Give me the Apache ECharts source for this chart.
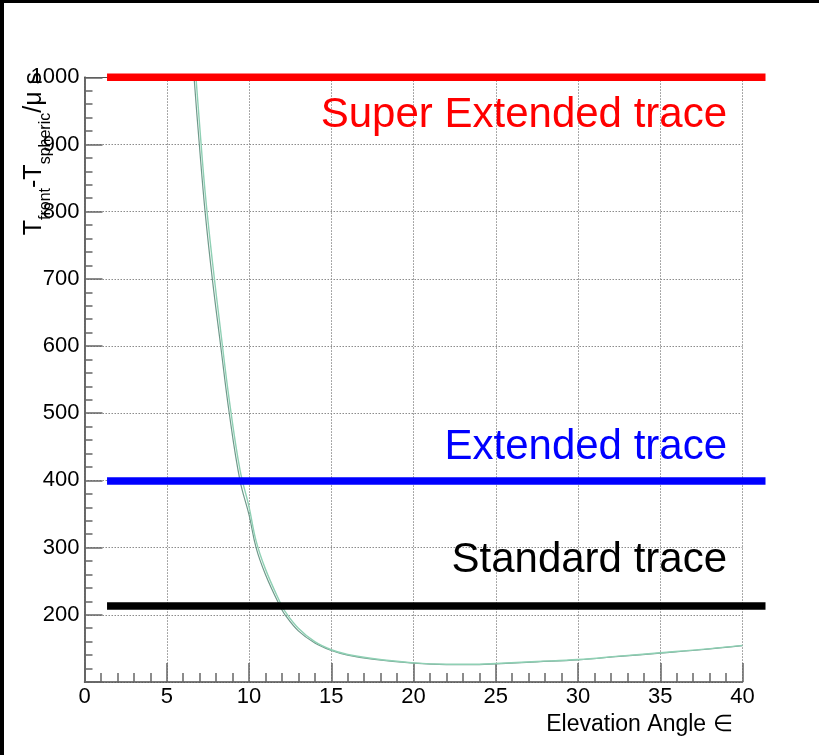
<!DOCTYPE html>
<html><head><meta charset="utf-8">
<script src="https://cdn.jsdelivr.net/npm/echarts@6/dist/echarts.min.js"></script>
<style>html,body{margin:0;padding:0;background:#fff}#c{width:819px;height:755px}</style>
</head><body><div id="c"></div>
<script>
const anglesA = [6.5, 6.66, 6.98, 7.33, 7.77, 8.28, 8.8, 9.45, 10, 10.43, 11, 11.88, 12.19, 13, 14, 15, 16, 17.5, 20, 22, 24, 25, 27.5, 30, 32.5, 35, 37.5, 40];
const valuesA = [1060, 1000, 900, 800, 700, 600, 500, 400, 349, 300, 260, 213, 200, 176, 158, 147, 140, 134, 128, 126, 126, 127, 130, 133, 138, 143, 148, 154];
const valuesB = [1105, 1040, 935, 830, 727, 622, 520, 416, 361, 310, 268, 219, 205, 180, 160, 148, 141, 135, 128.5, 126.5, 126.5, 127.5, 130.5, 133.5, 138.5, 143.5, 148.5, 154.5];
const traceNames = ['Super Extended trace', 'Extended trace', 'Standard trace'];
const traceLevels = [1000, 399, 213];
const traceStart = 1.37, traceEnd = 41.4;
const xTicks = [0, 5, 10, 15, 20, 25, 30, 35, 40];
const yTicks = [100, 200, 300, 400, 500, 600, 700, 800, 900, 1000];

const chart = echarts.init(document.getElementById('c'));
const traceColors = ['#ff0000', '#0000ff', '#000000'];
const labelPos = [[39.06, 943], [39.06, 449], [39.06, 281]];
const FONT = 'Liberation Sans, Arial, sans-serif';

const series = [
  {type:'line', data: anglesA.map((a,i)=>[a, valuesA[i]]), symbol:'none', smooth:0.4,
   lineStyle:{color:'#6f9a8b', width:1.2}, z:3},
  {type:'line', data: anglesA.map((a,i)=>[a, valuesB[i]]), symbol:'none', smooth:0.4,
   lineStyle:{color:'#8fd0b4', width:1.4}, z:3}
];
traceLevels.forEach((lv,i)=>{
  series.push({type:'line', xAxisIndex:2, yAxisIndex:2, data:[[traceStart, lv],[traceEnd, lv]], symbol:'none', clip:false,
    lineStyle:{color:traceColors[i], width:7.5}, z:5});
  series.push({type:'scatter', xAxisIndex:2, yAxisIndex:2, data:[labelPos[i]], symbolSize:0, z:6,
    itemStyle:{opacity:1},
    label:{show:true, position:'inside', formatter: traceNames[i], color:traceColors[i], opacity:1,
      fontSize:42, fontFamily:FONT, align:'right', verticalAlign:'middle'}});
});

chart.setOption({
  animation:false,
  grid:[{left:84.5, right:76.5, top:77.3, bottom:73},
        {left:84.5, right:53.5, top:77.3, bottom:73}],
  xAxis:[{type:'value', gridIndex:0, min:0, max:40, interval:5,
    axisLine:{lineStyle:{color:'#4d4d4d', width:1.5}},
    axisTick:{inside:true, length:19, lineStyle:{color:'#666', width:1.5}},
    minorTick:{show:true, splitNumber:5, length:9, lineStyle:{color:'#666', width:1.5}},
    axisLabel:{color:'#000', fontSize:22, fontFamily:FONT, margin:4,
      formatter:v=> xTicks.includes(v) ? String(v) : ''},
    splitLine:{show:true, lineStyle:{color:'#8c8c8c', type:[1.5,1.5], width:1}},
    name:'Elevation Angle \u2208', nameLocation:'end', nameGap:0,
    nameTextStyle:{color:'#000', fontSize:23, fontFamily:FONT, align:'right', verticalAlign:'top', padding:[31,10,0,0]}
  },{type:'value', gridIndex:0, min:0, max:40, position:'top', axisLine:{show:true, lineStyle:{color:'#4d4d4d'}},
    axisTick:{show:false}, axisLabel:{show:false}, splitLine:{show:false}},
  {type:'value', gridIndex:1, min:0, max:41.4, show:false}],
  yAxis:[{type:'value', gridIndex:0, min:100, max:1000, interval:100,
    axisLine:{lineStyle:{color:'#4d4d4d', width:1.5}},
    axisTick:{inside:true, length:18, lineStyle:{color:'#666', width:1.5}},
    minorTick:{show:true, splitNumber:5, length:8, lineStyle:{color:'#666', width:1.5}},
    axisLabel:{color:'#000', fontSize:22, fontFamily:FONT, margin:5,
      formatter:v=> (yTicks.includes(v) && v !== 100) ? String(v) : ''},
    splitLine:{show:true, lineStyle:{color:'#8c8c8c', type:[1.5,1.5], width:1}}
  },{type:'value', gridIndex:0, min:100, max:1000, position:'right', axisLine:{show:true, lineStyle:{color:'#666', width:1.5}},
    axisTick:{show:false}, axisLabel:{show:false}, splitLine:{show:false}},
  {type:'value', gridIndex:1, min:100, max:1000, show:false}],
  graphic:[
    {type:'rect', shape:{x:0,y:0,width:819,height:3}, style:{fill:'#000'}, z:100},
    {type:'rect', shape:{x:0,y:0,width:4,height:755}, style:{fill:'#000'}, z:100},
    {type:'text', x:54, y:72, rotation:Math.PI/2, z:50,
     style:{text:'{b|T}{s|front}{b|-T}{s|spheric}{b|/\u03bc s}', align:'right', verticalAlign:'bottom',
       rich:{b:{fontSize:25, fontFamily:FONT, fill:'#000', lineHeight:32, verticalAlign:'top'},
             s:{fontSize:16, fontFamily:FONT, fill:'#000', lineHeight:32, verticalAlign:'bottom'}}}}
  ],
  series: series
});
</script></body></html>
